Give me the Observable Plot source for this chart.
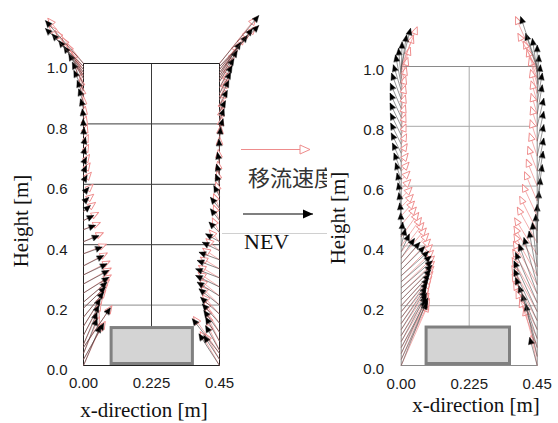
<!DOCTYPE html>
<html>
<head>
<meta charset="utf-8">
<script src="https://cdn.jsdelivr.net/npm/d3@7"></script>
<script src="https://cdn.jsdelivr.net/npm/@observablehq/plot@0.6"></script>
<style>
  html, body { margin: 0; padding: 0; background: #fff; }
  body { width: 558px; height: 423px; overflow: hidden; position: relative; }
  .abs { position: absolute; }
  svg { overflow: visible; }
</style>
</head>
<body>
<svg id="legend" class="abs" style="left:0;top:0;z-index:1" width="558" height="423"></svg>
<div id="panelA" class="abs" style="left:0;top:0;z-index:2"></div>
<div id="panelB" class="abs" style="left:327px;top:0;z-index:3;background:#fff"></div>
<svg id="titles" class="abs" style="left:0;top:0;z-index:4;pointer-events:none" width="558" height="423"></svg>
<script>
// ---------------- data ----------------
const xTicks = [0, 0.225, 0.45];
const xTickLabels = ["0.00", "0.225", "0.45"];
const yTicks = [0, 0.2, 0.4, 0.6, 0.8, 1.0];
const yTickLabels = ["0.0", "0.2", "0.4", "0.6", "0.8", "1.0"];
const gridY = [0.2, 0.4, 0.6, 0.8];
const gridX = [0.225];
const wallLeft = 0;
const wallRight = 0.45;
const seriesNames = ["移流速度", "NEV"];
const axisTitleY = "Height [m]";
const axisTitleX = "x-direction [m]";

// obstacle box [x1, x2, y1, y2]
const obstacleA = [0.093, 0.362, 0.005, 0.124];
const obstacleB = [0.084, 0.360, 0.005, 0.127];

// Panel A (left) — left wall
const aLeftStart = [0.00,0.02,0.04,0.06,0.07,0.10,0.13,0.16,0.19,0.21,0.24,0.27,0.30,0.33,0.37,0.41,0.45,0.48,0.51,0.54,0.57,0.61,0.64,0.67,0.70,0.73,0.76,0.79,0.82,0.85,0.87,0.89,0.91,0.93,0.95,0.96,0.97,0.98,0.99,1.00];
const aLeftNevX = [0.056,0.067,0.045,0.089,0.045,0.051,0.056,0.067,0.073,0.078,0.084,0.084,0.078,0.067,0.062,0.051,0.040,0.034,0.023,0.018,0.018,0.012,0.010,0.010,0.007,0.007,0.002,-0.001,-0.004,-0.010,-0.016,-0.021,-0.032,-0.037,-0.049,-0.065,-0.082,-0.104,-0.126,-0.126];
const aLeftNevY = [0.132,0.140,0.155,0.191,0.176,0.199,0.221,0.243,0.260,0.276,0.292,0.315,0.337,0.364,0.392,0.430,0.464,0.497,0.530,0.557,0.590,0.630,0.662,0.690,0.723,0.756,0.789,0.817,0.850,0.883,0.916,0.944,0.977,1.004,1.032,1.057,1.076,1.098,1.116,1.142];
const aLeftAdvX = [0.062,0.072,0.052,0.094,0.052,0.058,0.063,0.074,0.080,0.086,0.092,0.092,0.088,0.079,0.076,0.066,0.056,0.050,0.040,0.034,0.032,0.026,0.022,0.020,0.017,0.016,0.012,0.009,0.006,0.000,-0.006,-0.011,-0.021,-0.027,-0.038,-0.054,-0.070,-0.092,-0.114,-0.118];
const aLeftAdvY = [0.140,0.146,0.162,0.198,0.183,0.206,0.228,0.250,0.268,0.284,0.300,0.323,0.346,0.373,0.402,0.440,0.474,0.507,0.540,0.567,0.600,0.640,0.671,0.699,0.732,0.765,0.798,0.826,0.859,0.892,0.925,0.953,0.986,1.013,1.041,1.066,1.086,1.108,1.126,1.150];

// Panel A (left) — right wall
const aRightStart = [0.00,0.02,0.04,0.05,0.08,0.11,0.14,0.17,0.20,0.23,0.26,0.29,0.32,0.35,0.38,0.41,0.44,0.48,0.52,0.56,0.60,0.63,0.67,0.71,0.75,0.78,0.81,0.84,0.86,0.88,0.90,0.92,0.94,0.95,0.96,0.97,0.98,0.99,1.00];
const aRightNevX = [0.382,0.398,0.360,0.404,0.404,0.398,0.393,0.387,0.382,0.376,0.371,0.371,0.376,0.382,0.393,0.404,0.415,0.420,0.420,0.431,0.437,0.440,0.443,0.448,0.454,0.462,0.465,0.470,0.476,0.481,0.487,0.492,0.498,0.509,0.520,0.542,0.559,0.580,0.580];
const aRightNevY = [0.105,0.099,0.155,0.132,0.160,0.182,0.204,0.226,0.254,0.276,0.298,0.320,0.348,0.375,0.408,0.436,0.475,0.519,0.557,0.596,0.634,0.667,0.706,0.750,0.789,0.817,0.850,0.877,0.911,0.944,0.971,0.993,1.016,1.043,1.070,1.093,1.115,1.126,1.159];
const aRightAdvX = [0.386,0.402,0.364,0.408,0.408,0.403,0.398,0.393,0.388,0.383,0.379,0.380,0.386,0.394,0.405,0.416,0.426,0.430,0.430,0.438,0.442,0.444,0.446,0.450,0.454,0.458,0.460,0.464,0.469,0.474,0.479,0.484,0.490,0.500,0.511,0.532,0.549,0.570,0.571];
const aRightAdvY = [0.112,0.106,0.162,0.139,0.167,0.190,0.212,0.234,0.262,0.285,0.308,0.331,0.359,0.388,0.420,0.449,0.489,0.532,0.569,0.608,0.645,0.677,0.715,0.758,0.795,0.822,0.853,0.880,0.912,0.944,0.970,0.991,1.013,1.040,1.066,1.089,1.110,1.122,1.153];

// Panel B (right) — left wall
const bLeftStart = [0.00,0.02,0.04,0.06,0.08,0.10,0.12,0.14,0.16,0.18,0.20,0.22,0.24,0.26,0.28,0.30,0.32,0.34,0.36,0.38,0.40,0.43,0.47,0.50,0.53,0.56,0.59,0.62,0.65,0.68,0.71,0.74,0.77,0.80,0.83,0.86,0.89,0.92,0.94,0.96,0.98,0.99,1.00];
const bLeftNevX = [0.083,0.086,0.081,0.088,0.082,0.084,0.081,0.083,0.086,0.090,0.094,0.098,0.102,0.103,0.099,0.091,0.078,0.062,0.044,0.027,0.014,0.005,-0.002,-0.005,-0.008,-0.011,-0.014,-0.019,-0.024,-0.029,-0.033,-0.035,-0.036,-0.037,-0.037,-0.036,-0.032,-0.026,-0.019,-0.009,0.003,0.018,0.031];
const bLeftNevY = [0.211,0.215,0.220,0.226,0.233,0.242,0.252,0.264,0.278,0.291,0.305,0.320,0.335,0.350,0.366,0.382,0.398,0.412,0.425,0.440,0.458,0.480,0.511,0.544,0.578,0.611,0.644,0.678,0.711,0.744,0.778,0.811,0.844,0.878,0.911,0.944,0.978,1.006,1.039,1.061,1.083,1.106,1.128];
const bLeftAdvX = [0.090,0.092,0.088,0.094,0.090,0.092,0.090,0.093,0.097,0.101,0.105,0.108,0.110,0.110,0.107,0.103,0.097,0.091,0.083,0.075,0.067,0.058,0.050,0.044,0.040,0.036,0.032,0.029,0.026,0.023,0.020,0.018,0.016,0.015,0.014,0.014,0.014,0.015,0.017,0.022,0.030,0.040,0.053];
const bLeftAdvY = [0.205,0.212,0.218,0.224,0.232,0.242,0.254,0.268,0.283,0.298,0.314,0.331,0.348,0.366,0.385,0.404,0.423,0.442,0.460,0.478,0.495,0.512,0.530,0.550,0.572,0.596,0.622,0.650,0.680,0.710,0.742,0.775,0.808,0.840,0.872,0.905,0.937,0.968,0.998,1.030,1.065,1.105,1.133];

// Panel B (right) — right wall
const bRightStart = [0.00,0.03,0.06,0.09,0.12,0.15,0.18,0.21,0.24,0.27,0.30,0.33,0.37,0.41,0.45,0.50,0.55,0.60,0.65,0.70,0.75,0.80,0.84,0.88,0.91,0.94,0.96,0.98,0.99,1.00];
const bRightNevX = [0.425,0.412,0.400,0.389,0.378,0.373,0.373,0.378,0.389,0.406,0.423,0.434,0.445,0.450,0.456,0.461,0.467,0.470,0.472,0.472,0.472,0.472,0.467,0.467,0.461,0.456,0.450,0.434,0.412,0.395];
const bRightNevY = [0.094,0.206,0.239,0.267,0.294,0.322,0.350,0.378,0.406,0.428,0.450,0.478,0.506,0.539,0.583,0.628,0.672,0.717,0.761,0.806,0.850,0.894,0.939,0.978,1.006,1.039,1.072,1.094,1.111,1.167];
const bRightAdvX = [0.430,0.406,0.392,0.380,0.372,0.367,0.366,0.367,0.369,0.371,0.373,0.373,0.375,0.384,0.392,0.401,0.408,0.414,0.419,0.424,0.427,0.429,0.430,0.430,0.428,0.424,0.416,0.405,0.386,0.378];
const bRightAdvY = [0.100,0.194,0.222,0.250,0.278,0.306,0.334,0.361,0.389,0.416,0.440,0.466,0.494,0.530,0.566,0.606,0.648,0.690,0.733,0.778,0.822,0.866,0.910,0.952,0.990,1.030,1.060,1.085,1.111,1.167];

// ---------------- styles ----------------
const PINK = "#ee8c8c";
const SANS = "'Liberation Sans', Arial, sans-serif";
const SERIF = "'Liberation Serif', 'Times New Roman', serif";

function rows(wall, start, tx, ty) {
  return start.map((s, i) => ({x1: wall, y1: s, x2: tx[i], y2: ty[i]}));
}

function fixMarkers(svg) {
  const NS = "http://www.w3.org/2000/svg";
  svg.querySelectorAll("marker").forEach(m => {
    const pink = m.getAttribute("stroke") === PINK;
    m.setAttribute("viewBox", "-10 -5 11 10");
    m.setAttribute("markerWidth", "11");
    m.setAttribute("markerHeight", "10");
    m.setAttribute("markerUnits", "userSpaceOnUse");
    m.setAttribute("refX", "0");
    m.setAttribute("refY", "0");
    m.setAttribute("stroke-linejoin", "miter");
    while (m.firstChild) m.removeChild(m.firstChild);
    const p = document.createElementNS(NS, "path");
    if (pink) {
      p.setAttribute("d", "M-7.5,-3.2L0,0L-7.5,3.2Z");
      p.setAttribute("fill", "#fff");
      p.setAttribute("stroke", PINK);
      p.setAttribute("stroke-width", "0.9");
    } else {
      p.setAttribute("d", "M-6.5,-2.9L0,0L-6.5,2.9Z");
      p.setAttribute("fill", "#000");
      p.setAttribute("stroke", "#000");
      p.setAttribute("stroke-width", "0.4");
    }
    m.appendChild(p);
  });
}

function panel(cfg) {
  const fmtX = d => xTickLabels[xTicks.indexOf(d)];
  const fmtY = d => yTickLabels[yTicks.indexOf(d)];
  const box = cfg.box;
  const chart = Plot.plot({
    width: cfg.width,
    height: cfg.height,
    marginLeft: cfg.ml,
    marginRight: cfg.mr,
    marginTop: cfg.mt,
    marginBottom: cfg.mb,
    x: {domain: [0, 0.45]},
    y: {domain: [0, 1]},
    style: {fontFamily: SANS, fontSize: "15px", color: "#1a1a1a", background: "transparent", overflow: "visible"},
    marks: [
      Plot.ruleY(gridY, {stroke: d => (d === gridY[0] ? cfg.gridLow : cfg.grid), strokeWidth: 1}),
      Plot.ruleX(gridX, {y1: 0, y2: 1, stroke: cfg.grid, strokeWidth: 1}),
      Plot.frame({stroke: cfg.frame, strokeWidth: 1}),
      Plot.rect([box], {x1: d => d[0], x2: d => d[1], y1: d => d[2], y2: d => d[3], fill: "#d4d4d4", stroke: "#808080", strokeWidth: 3}),
      ...cfg.pink.map(r => Plot.link(r, {x1: "x1", y1: "y1", x2: "x2", y2: "y2", stroke: PINK, strokeWidth: 0.7, markerEnd: "arrow"})),
      ...cfg.black.map(r => Plot.link(r, {x1: "x1", y1: "y1", x2: "x2", y2: "y2", stroke: cfg.blackLine, strokeWidth: 0.6, markerEnd: "arrow"})),
      Plot.axisX(xTicks, {tickSize: 0, tickPadding: cfg.padX, tickFormat: fmtX, fontSize: 15}),
      Plot.axisY(yTicks, {tickSize: 0, tickPadding: cfg.padY, tickFormat: fmtY, dy: cfg.dyY, fontSize: 15})
    ]
  });
  fixMarkers(chart);
  return chart;
}

// Panel A: frame x 83..219, y 63..365
const A = panel({
  width: 279, height: 423, ml: 83, mr: 60, mt: 63, mb: 58,
  grid: "#3a3a3a", gridLow: "#8c8c8c", frame: "#222", blackLine: "#3b3030",
  box: obstacleA, padX: 12, padY: 16, dyY: 5,
  pink: [rows(wallLeft, aLeftStart, aLeftAdvX, aLeftAdvY), rows(wallRight, aRightStart, aRightAdvX, aRightAdvY)],
  black: [rows(wallLeft, aLeftStart, aLeftNevX, aLeftNevY), rows(wallRight, aRightStart, aRightNevX, aRightNevY)]
});
document.getElementById("panelA").appendChild(A);

// Panel B: frame x 400.7..536.7 (local 73.7..209.7), y 66..365
const B = panel({
  width: 231, height: 423, ml: 73.7, mr: 21.3, mt: 66, mb: 58,
  grid: "#a8a8a8", gridLow: "#a8a8a8", frame: "#8a8a8a", blackLine: "#505050",
  box: obstacleB, padX: 13, padY: 17, dyY: 4,
  pink: [rows(wallLeft, bLeftStart, bLeftAdvX, bLeftAdvY), rows(wallRight, bRightStart, bRightAdvX, bRightAdvY)],
  black: [rows(wallLeft, bLeftStart, bLeftNevX, bLeftNevY), rows(wallRight, bRightStart, bRightNevX, bRightNevY)]
});
document.getElementById("panelB").appendChild(B);

// ---------------- legend (between panels) ----------------
const leg = d3.select("#legend");
const defs = leg.append("defs");
defs.append("marker").attr("id", "legPink").attr("viewBox", "-12 -6 13 12").attr("markerWidth", 13).attr("markerHeight", 12)
  .attr("markerUnits", "userSpaceOnUse").attr("orient", "auto")
  .append("path").attr("d", "M-10,-4.5L0,0L-10,4.5Z").attr("fill", "#fff").attr("stroke", PINK).attr("stroke-width", 1);
defs.append("marker").attr("id", "legBlack").attr("viewBox", "-12 -6 13 12").attr("markerWidth", 13).attr("markerHeight", 12)
  .attr("markerUnits", "userSpaceOnUse").attr("orient", "auto")
  .append("path").attr("d", "M-10,-4.5L0,0L-10,4.5Z").attr("fill", "#000");
leg.append("line").attr("x1", 241).attr("x2", 310).attr("y1", 149.5).attr("y2", 149.5)
  .attr("stroke", PINK).attr("stroke-width", 1.2).attr("marker-end", "url(#legPink)");
leg.append("text").attr("x", 248).attr("y", 186).text(seriesNames[0])
  .attr("font-family", "'Noto Sans CJK JP', sans-serif").attr("font-size", 22).attr("fill", "#333");
leg.append("line").attr("x1", 243).attr("x2", 313).attr("y1", 214).attr("y2", 214)
  .attr("stroke", "#000").attr("stroke-width", 1.2).attr("marker-end", "url(#legBlack)");
leg.append("line").attr("x1", 222).attr("x2", 330).attr("y1", 233.5).attr("y2", 233.5)
  .attr("stroke", "#d0d0d0").attr("stroke-width", 1);
leg.append("text").attr("x", 244).attr("y", 249).text(seriesNames[1])
  .attr("font-family", SERIF).attr("font-size", 22).attr("fill", "#111");

// ---------------- axis titles ----------------
const t = d3.select("#titles");
t.append("text").attr("transform", "translate(28,221) rotate(-90)").attr("text-anchor", "middle")
  .attr("font-family", SERIF).attr("font-size", 21).attr("fill", "#111").text(axisTitleY);
t.append("text").attr("transform", "translate(345,218) rotate(-90)").attr("text-anchor", "middle")
  .attr("font-family", SERIF).attr("font-size", 21).attr("fill", "#111").text(axisTitleY);
t.append("text").attr("x", 144).attr("y", 417).attr("text-anchor", "middle")
  .attr("font-family", SERIF).attr("font-size", 21).attr("fill", "#111").text(axisTitleX);
t.append("text").attr("x", 476).attr("y", 412).attr("text-anchor", "middle")
  .attr("font-family", SERIF).attr("font-size", 21).attr("fill", "#111").text(axisTitleX);
</script>
</body>
</html>
